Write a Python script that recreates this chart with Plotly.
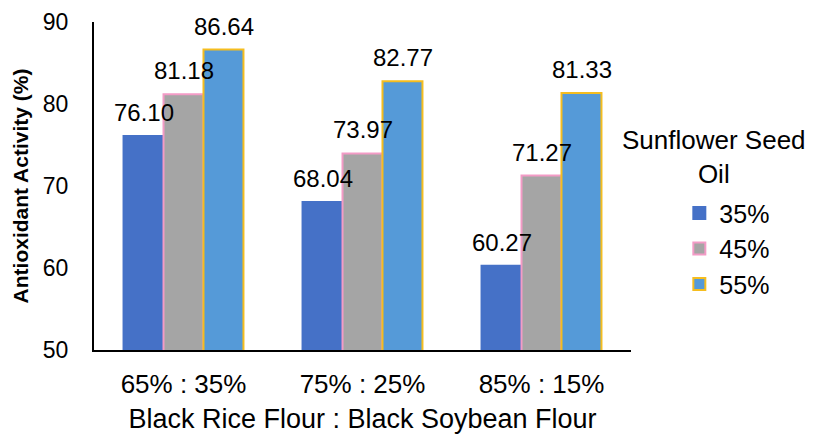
import plotly.graph_objects as go

categories = ["65% : 35%", "75% : 25%", "85% : 15%"]
series_names = ["35%", "45%", "55%"]
values_35 = [76.10, 68.04, 60.27]
values_45 = [81.18, 73.97, 71.27]
values_55 = [86.64, 82.77, 81.33]
legend_title = "Sunflower Seed<br>Oil"

fills = ["#4571c7", "#a5a5a5", "#559ad8"]
borders = ["#4571c7", "#f39bc6", "#f5bd1f"]
label_shift = [-40, 0, 40]

fig = go.Figure()
all_vals = [values_35, values_45, values_55]
for name, vals, fc, bc in zip(series_names, all_vals, fills, borders):
    fig.add_trace(go.Bar(
        x=categories, y=vals, name=name,
        marker=dict(color=fc, line=dict(color=bc, width=2)),
    ))

annotations = []
for vals, xs in zip(all_vals, label_shift):
    for c, v in zip(categories, vals):
        annotations.append(dict(
            x=c, y=v, xref="x", yref="y", text=f"{v:.2f}", showarrow=False,
            xanchor="center", yanchor="bottom", xshift=xs, yshift=8,
            font=dict(size=24, color="#000000"),
        ))
annotations.append(dict(
    x=1.1546, y=0.588, xref="paper", yref="paper", text=legend_title,
    showarrow=False, xanchor="center", yanchor="middle", align="center",
    font=dict(size=26, color="#000000"),
))

fig.update_layout(
    width=813, height=434,
    margin=dict(l=94, r=182, t=22, b=84, autoexpand=False),
    paper_bgcolor="white", plot_bgcolor="white",
    barmode="group", bargap=0.33, bargroupgap=0,
    font=dict(family="Liberation Sans, Arial", color="#000000", size=20),
    annotations=annotations,
    xaxis=dict(
        automargin=False,
        showline=True, linecolor="#000000", linewidth=2, ticks="",
        tickfont=dict(size=26), ticklabelstandoff=10,
        title=dict(text="Black Rice Flour : Black Soybean Flour", font=dict(size=27), standoff=16),
    ),
    yaxis=dict(
        automargin=False,
        range=[50, 90], dtick=10, showgrid=False, zeroline=False,
        showline=True, linecolor="#000000", linewidth=2, ticks="",
        tickfont=dict(size=23), ticklabelstandoff=19,
        title=dict(text="<b>Antioxidant Activity (%)</b>", font=dict(size=21), standoff=8),
    ),
    legend=dict(
        x=1.09, xanchor="left", y=0.487, yanchor="top",
        font=dict(size=25), itemsizing="constant",
        tracegroupgap=0,
    ),
)

fig.write_html("out.html")
